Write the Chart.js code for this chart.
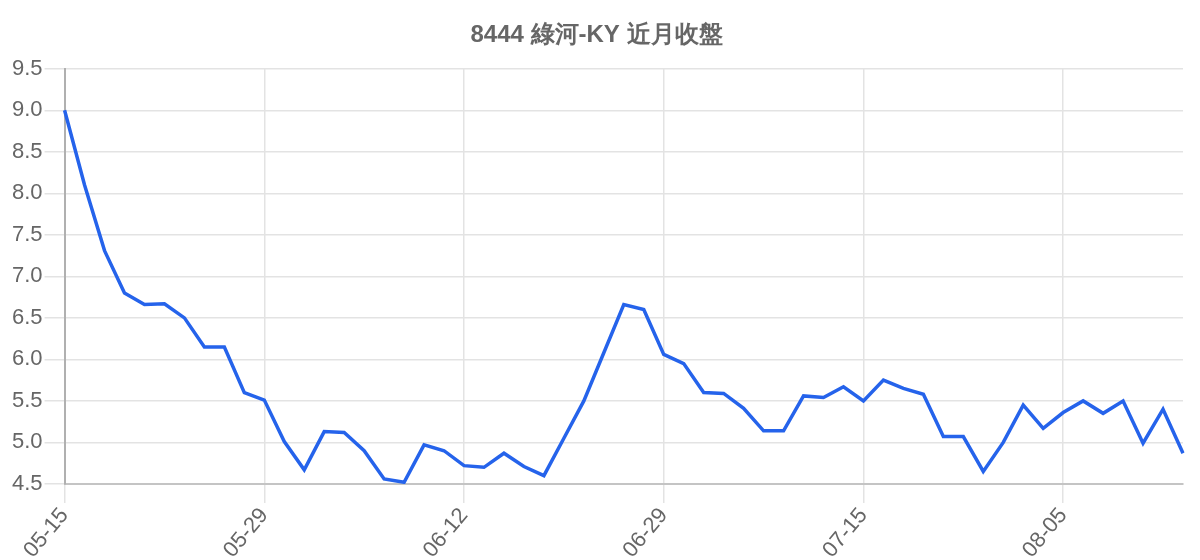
<!DOCTYPE html>
<html>
<head>
<meta charset="utf-8">
<script src="https://cdn.jsdelivr.net/npm/chart.js@4"></script>
<style>
  body { margin: 0; background: #fff; }
  #wrap { width: 1200px; height: 560px; }
</style>
</head>
<body>
<div id="wrap"><canvas id="priceChart"></canvas></div>
<script>
const dates = [
  "05-15", "05-16", "05-17", "05-20", "05-21", "05-22", "05-23", "05-24", "05-27", "05-28",
  "05-29", "05-30", "05-31", "06-03", "06-04", "06-05", "06-06", "06-07", "06-10", "06-11",
  "06-12", "06-13", "06-14", "06-17", "06-18", "06-19", "06-20", "06-21", "06-24", "06-26",
  "06-29", "07-01", "07-02", "07-03", "07-04", "07-05", "07-08", "07-09", "07-10", "07-11",
  "07-15", "07-16", "07-17", "07-18", "07-19", "07-22", "07-23", "07-26", "07-29", "07-30",
  "08-05", "08-06", "08-07", "08-08", "08-09", "08-12", "08-13"
];

const closes = [
  9.0, 8.1, 7.31, 6.8, 6.66, 6.67, 6.5, 6.15, 6.15, 5.6,
  5.51, 5.01, 4.67, 5.13, 5.12, 4.9, 4.56, 4.52, 4.97, 4.9,
  4.72, 4.7, 4.87, 4.71, 4.6, 5.05, 5.5, 6.08, 6.66, 6.6,
  6.06, 5.95, 5.6, 5.59, 5.41, 5.14, 5.14, 5.56, 5.54, 5.67,
  5.5, 5.75, 5.65, 5.58, 5.07, 5.07, 4.65, 5.0, 5.45, 5.17,
  5.36, 5.5, 5.35, 5.5, 4.99, 5.4, 4.87
];

const labelEvery = 10;

Chart.defaults.font.family = "'Liberation Sans', Arial, sans-serif";
Chart.defaults.color = "#666";

const ctx = document.getElementById("priceChart").getContext("2d");

new Chart(ctx, {
  type: "line",
  data: {
    labels: dates,
    datasets: [{
      label: "收盤",
      data: closes,
      borderColor: "#2563eb",
      borderWidth: 3.5,
      pointRadius: 0,
      fill: false,
      tension: 0
    }]
  },
  options: {
    responsive: true,
    maintainAspectRatio: false,
    animation: false,
    layout: { padding: { left: 10, right: 17, bottom: -3 } },
    plugins: {
      legend: { display: false },
      tooltip: { enabled: false },
      title: {
        display: true,
        text: "8444 綠河-KY 近月收盤",
        color: "#666",
        font: { size: 24, weight: "bold" },
        padding: { top: 21, bottom: 19 }
      }
    },
    scales: {
      x: {
        grid: { tickLength: 19, color: "#e3e3e3", lineWidth: 1.5 },
        border: { color: "#c4c4c4", width: 2 },
        ticks: {
          autoSkip: false,
          maxRotation: 50,
          minRotation: 50,
          padding: 0,
          font: { size: 22 },
          callback: function (value, index) {
            return index % labelEvery === 0 ? dates[index] : null;
          }
        }
      },
      y: {
        min: 4.5,
        max: 9.5,
        grid: { tickLength: 20, color: "#e3e3e3", lineWidth: 1.5 },
        border: { color: "#b0b0b0", width: 2 },
        ticks: {
          stepSize: 0.5,
          padding: 2,
          font: { size: 22 },
          callback: function (value) {
            return value.toFixed(1);
          }
        }
      }
    }
  }
});
</script>
</body>
</html>
